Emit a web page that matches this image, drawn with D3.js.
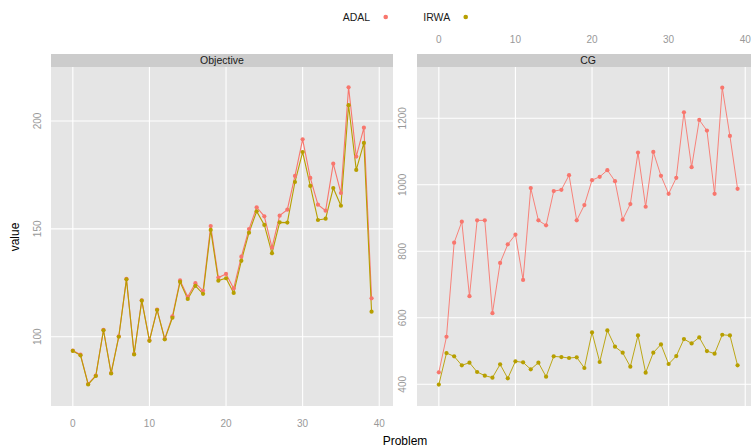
<!DOCTYPE html>
<html>
<head>
<meta charset="utf-8">
<script src="https://cdn.jsdelivr.net/npm/d3@7"></script>
<style>
  html, body { margin: 0; padding: 0; background: #fff; }
  svg { display: block; font-family: "Liberation Sans", Arial, Helvetica, sans-serif; }
</style>
</head>
<body>
<svg id="chart" width="751" height="448"></svg>
<script>
// Problem index 0..39
const problems = d3.range(40);

// Objective values per problem
const objectiveADAL = [93.6, 91.7, 78.1, 82.0, 103.2, 83.2, 100.2, 126.8, 92.0, 116.9,
  98.3, 112.6, 99.0, 109.5, 126.1, 118.5, 124.8, 121.3, 151.3, 127.4,
  129.1, 122.4, 137.1, 149.9, 160.0, 155.8, 141.3, 156.1, 158.9, 174.5,
  191.5, 173.6, 161.2, 158.4, 180.2, 166.6, 215.6, 183.5, 196.9, 117.8];
const objectiveIRWA = [93.4, 91.4, 77.9, 81.8, 103.0, 83.0, 100.0, 126.6, 91.8, 116.7,
  98.1, 112.4, 98.8, 108.8, 125.4, 117.5, 123.6, 119.9, 149.5, 126.0,
  127.1, 120.3, 135.2, 148.2, 158.1, 151.8, 138.7, 153.0, 152.9, 171.7,
  185.6, 169.9, 154.1, 154.7, 168.9, 160.7, 207.3, 177.3, 189.8, 111.6];

// CG iteration counts per problem
const cgADAL = [436, 543, 826, 889, 665, 893, 893, 614, 765, 821,
  850, 714, 990, 893, 878, 981, 985, 1029, 893, 939,
  1014, 1024, 1044, 1011, 895, 942, 1097, 934, 1099, 1027,
  973, 1021, 1218, 1053, 1195, 1163, 973, 1292, 1147, 988];
const cgIRWA = [399, 494, 484, 457, 465, 437, 426, 420, 460, 418,
  469, 466, 445, 465, 423, 484, 482, 479, 481, 449,
  556, 467, 562, 513, 495, 453, 547, 435, 495, 520,
  461, 485, 536, 523, 541, 500, 492, 549, 547, 457];

const methods = ["ADAL", "IRWA"];
const colors = ["#F8766D", "#B79F00"];

const xTicks = [0, 10, 20, 30, 40];
const objectiveTicks = [100, 150, 200];
const cgTicks = [400, 600, 800, 1000, 1200];

const svg = d3.select("#chart");
const color = d3.scaleOrdinal().domain(methods).range(colors);

const panelTop = 67, panelH = 339, panelW = 342, stripH = 13;
const tickColor = "#999999";

const panels = [
  { name: "Objective", left: 51, series: [objectiveADAL, objectiveIRWA],
    yDomain: [67.9, 225.0], yTicks: objectiveTicks, xAxisPos: "bottom", yLabelX: 37, lineW: 1.1 },
  { name: "CG", left: 417, series: [cgADAL, cgIRWA],
    yDomain: [334.7, 1354.3], yTicks: cgTicks, xAxisPos: "top", yLabelX: 402, lineW: 0.9 }
];

const defs = svg.append("defs");

panels.forEach((p, pi) => {
  const x = d3.scaleLinear().domain([-2.85, -2.85 + panelW / 7.66]).range([0, panelW]);
  const y = d3.scaleLinear().domain(p.yDomain).range([panelH, 0]);

  defs.append("clipPath").attr("id", "clip" + pi)
    .append("rect").attr("width", panelW).attr("height", panelH);

  // strip
  svg.append("rect").attr("x", p.left).attr("y", panelTop - stripH)
    .attr("width", panelW).attr("height", stripH).attr("fill", "#CCCCCC");
  svg.append("text").attr("x", p.left + panelW / 2).attr("y", panelTop - stripH / 2)
    .attr("dy", "0.35em").attr("text-anchor", "middle")
    .attr("font-size", 10.5).attr("fill", "#1a1a1a").text(p.name);

  const g = svg.append("g").attr("transform", `translate(${p.left},${panelTop})`);
  g.append("rect").attr("width", panelW).attr("height", panelH).attr("fill", "#E5E5E5");

  const inner = g.append("g").attr("clip-path", `url(#clip${pi})`);

  // grid lines
  inner.selectAll(".gx").data(xTicks).join("line")
    .attr("x1", d => x(d)).attr("x2", d => x(d))
    .attr("y1", 0).attr("y2", panelH)
    .attr("stroke", "#fff").attr("stroke-width", 1.1);
  inner.selectAll(".gy").data(p.yTicks).join("line")
    .attr("x1", 0).attr("x2", panelW)
    .attr("y1", d => y(d)).attr("y2", d => y(d))
    .attr("stroke", "#fff").attr("stroke-width", 1.1);

  // series lines and points
  const line = d3.line().x((d, i) => x(problems[i])).y(d => y(d));
  p.series.forEach((vals, si) => {
    inner.append("path").datum(vals)
      .attr("d", line).attr("fill", "none")
      .attr("stroke", color(methods[si])).attr("stroke-width", p.lineW);
  });
  p.series.forEach((vals, si) => {
    inner.selectAll(".pt" + si).data(vals).join("circle")
      .attr("cx", (d, i) => x(problems[i])).attr("cy", d => y(d))
      .attr("r", 2.1).attr("fill", color(methods[si]));
  });

  // y tick labels, rotated
  svg.selectAll(".yl" + pi).data(p.yTicks).join("text")
    .attr("transform", d => `translate(${p.yLabelX},${panelTop + y(d)}) rotate(-90)`)
    .attr("text-anchor", "middle").attr("dy", "0.35em")
    .attr("font-size", 10).attr("fill", tickColor).text(d => d);

  // x tick labels
  const xLabelY = p.xAxisPos === "bottom" ? 423 : 39;
  svg.selectAll(".xl" + pi).data(xTicks).join("text")
    .attr("x", d => p.left + x(d)).attr("y", xLabelY)
    .attr("text-anchor", "middle").attr("dy", "0.35em")
    .attr("font-size", 10).attr("fill", tickColor).text(d => d);
});

// axis titles
svg.append("text").attr("x", 405).attr("y", 441).attr("dy", "0.35em")
  .attr("text-anchor", "middle").attr("font-size", 12).attr("fill", "#000").text("Problem");
svg.append("text").attr("transform", "translate(15,237) rotate(-90)")
  .attr("text-anchor", "middle").attr("dy", "0.35em")
  .attr("font-size", 12).attr("fill", "#000").text("value");

// legend
const legendPos = [{ tx: 342.7, dx: 385.7 }, { tx: 423.3, dx: 465.7 }];
const legend = svg.selectAll(".leg").data(methods).join("g");
legend.append("text").attr("x", (d, i) => legendPos[i].tx).attr("y", 17)
  .attr("dy", "0.35em").attr("font-size", 10.5).attr("fill", "#1a1a1a").text(d => d);
legend.append("circle").attr("cx", (d, i) => legendPos[i].dx).attr("cy", 17)
  .attr("r", 2.3).attr("fill", d => color(d));
</script>
</body>
</html>
